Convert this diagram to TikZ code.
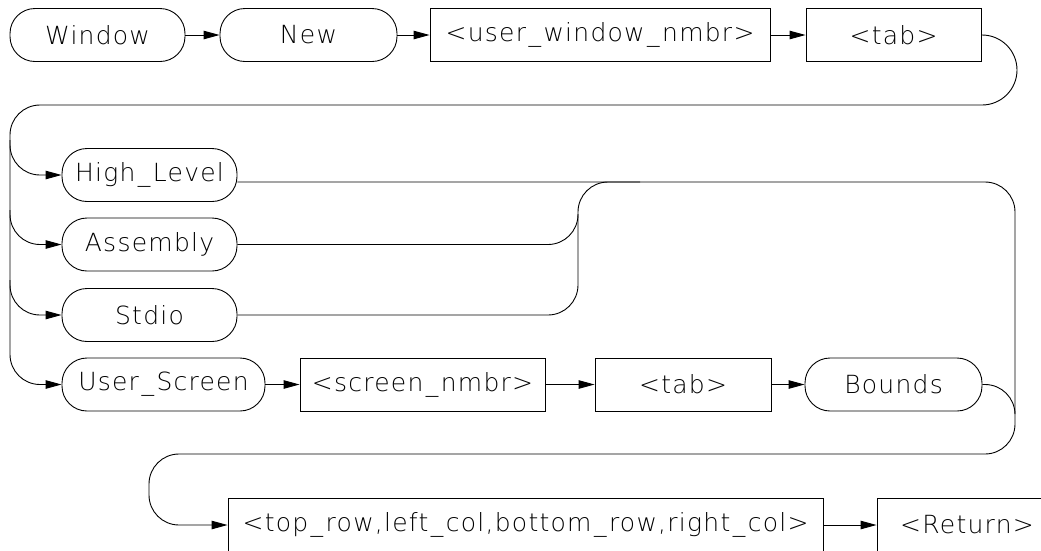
\documentclass[tikz,border=0pt]{standalone}
\usepackage{fontspec}
\setmainfont{DejaVu Sans}[UprightFont={* ExtraLight}, LetterSpace=5]
\usetikzlibrary{arrows.meta}
\newcommand{\usc}{\hspace{2.5pt}\_\hspace{2.5pt}}

\begin{document}
\begin{tikzpicture}[x=1pt, y=1pt,
    box/.style={rectangle, draw, line width=0.9pt, minimum height=53pt,
        inner sep=0pt, font=\fontsize{25}{29}\selectfont},
    pill/.style={box, rounded corners=25pt},
    arr/.style={-{Triangle[length=16pt, width=8.5pt]}, line width=0.9pt},
    loop/.style={line width=0.9pt, rounded corners=30pt}
]
    \useasboundingbox (0,0) rectangle (1041,-550);

    \node[pill, minimum width=175pt] (win) at (97.5,-35) {Window};
    \node[pill, minimum width=177pt] (new) at (308.5,-35) {New};
    \node[box, minimum width=340pt] (uwn) at (600,-35) {<user\usc window\usc nmbr>};
    \node[box, minimum width=175pt] (tab1) at (893.5,-35) {<tab>};

    \node[pill, minimum width=175pt] (hl) at (149.5,-175) {High\usc Level};
    \node[pill, minimum width=175pt] (asm) at (149.5,-244.5) {Assembly};
    \node[pill, minimum width=175pt] (std) at (149.5,-315) {Stdio};

    \node[pill, minimum width=203pt] (usr) at (163.5,-384.5) {User\usc Screen};
    \node[box, minimum width=245pt] (scr) at (422.5,-384.5) {<screen\usc nmbr>};
    \node[box, minimum width=176pt] (tab2) at (683,-384.5) {<tab>};
    \node[pill, minimum width=177pt] (bnd) at (893.5,-384.5) {Bounds};

    \node[box, minimum width=595pt, minimum height=54pt] (top) at (525.5,-525) {<top\usc row,left\usc col,bottom\usc row,right\usc col>};
    \node[box, minimum width=180pt, minimum height=54pt] (ret) at (967,-525) {<Return>};

    \draw[arr] (win) -- (new);
    \draw[arr] (new) -- (uwn);
    \draw[arr] (uwn) -- (tab1);
    \draw[arr] (usr) -- (scr);
    \draw[arr] (scr) -- (tab2);
    \draw[arr] (tab2) -- (bnd);
    \draw[arr] (top) -- (ret);

    % bends and junctions
    \coordinate (rtop) at (1017,-105);
    \coordinate (lbot) at (10,-384.5);
    \coordinate (sp1) at (10,-140);
    \coordinate (sp2) at (10,-210);
    \coordinate (sp3) at (10,-280);
    \coordinate (mg1) at (640,-182);
    \coordinate (mg2) at (578,-214);
    \coordinate (rbot) at (1015,-454);
    \coordinate (lret) at (149,-525);
    \coordinate (mg3) at (1015,-414);

    % return loop to the window types
    \draw[arr, loop] (tab1.east) [rounded corners=35pt] -| (rtop) [rounded corners=30pt] -| (lbot) -- (usr.west);
    \draw[arr, loop] (sp1) |- (hl.west);
    \draw[arr, loop] (sp2) |- (asm.west);
    \draw[arr, loop] (sp3) |- (std.west);

    % paths to the bounds
    \draw[loop] (asm.east) -| (578,-182) -- (mg1);
    \draw[loop] (std.east) -| (mg2);
    \draw[loop] ([yshift=-7pt]hl.east) -| (mg3);
    \draw[arr, loop] (bnd.east) -| (rbot) -| (lret) -- (top.west);
\end{tikzpicture}
\end{document}
